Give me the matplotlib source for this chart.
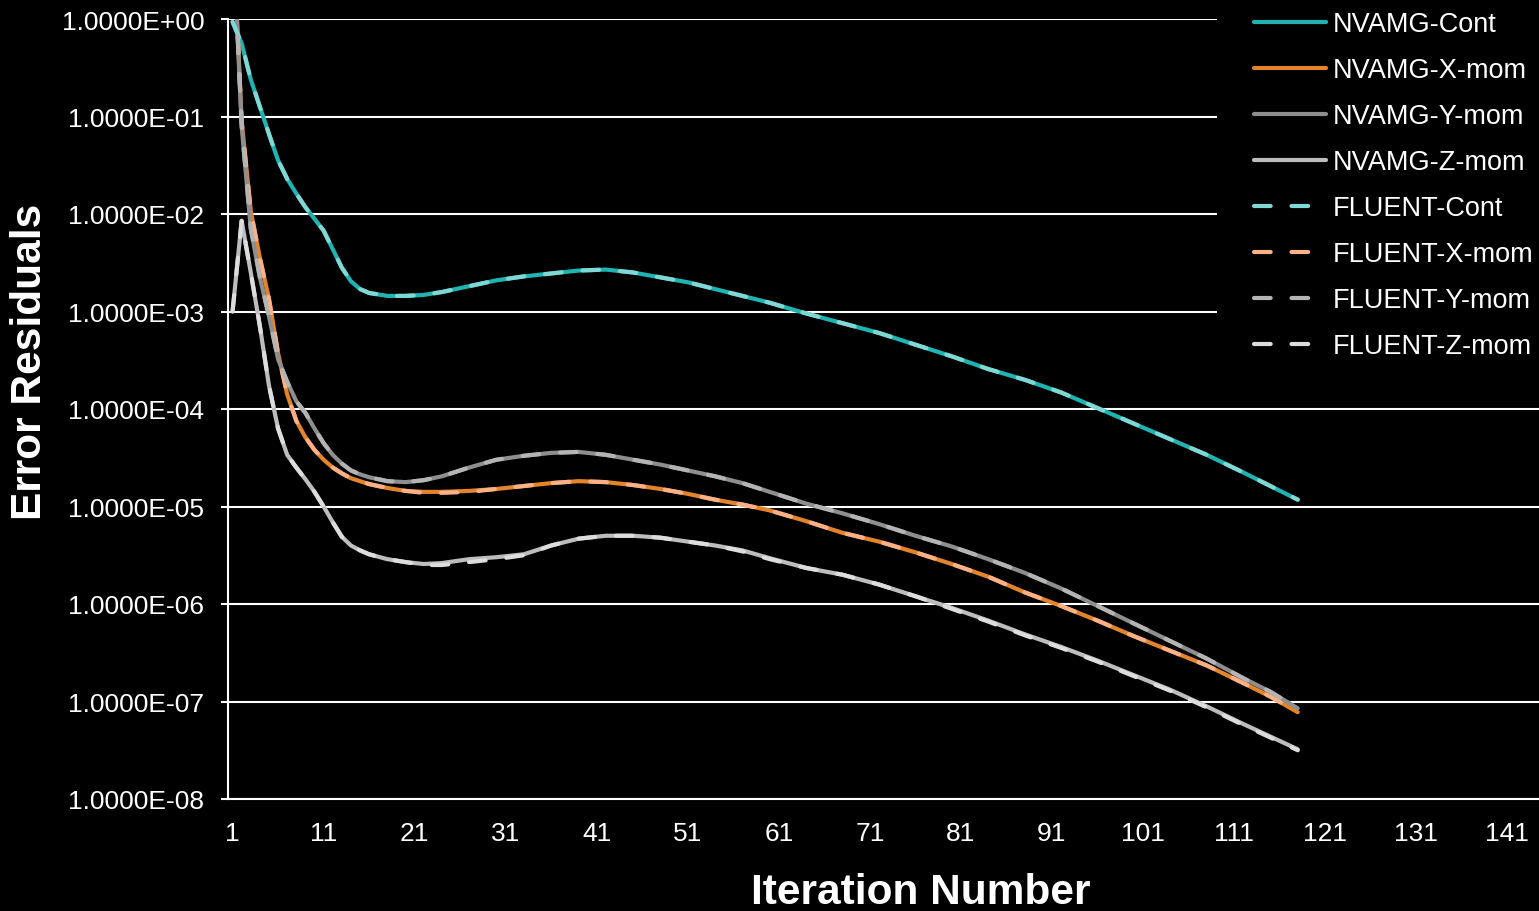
import numpy as np
import matplotlib
matplotlib.use("Agg")
import matplotlib.pyplot as plt
from matplotlib.patches import Rectangle

# iteration numbers where values were read
iters = [1, 2, 3, 4, 5, 6, 7, 8, 9, 10, 11, 12, 13, 14, 15, 16, 18, 20, 22, 24, 27, 30, 33,
         36, 39, 42, 45, 48, 51, 54, 57, 60, 64, 68, 72, 76, 80, 84, 88, 92, 96, 100,
         104, 108, 112, 115, 118]

# residuals, stored as log10 exponents
nvamg_cont = [-0.03, -0.25, -0.62, -0.90, -1.18, -1.45, -1.64, -1.79, -1.93, -2.05, -2.17,
              -2.36, -2.55, -2.69, -2.77, -2.81, -2.84, -2.84, -2.83, -2.80, -2.74, -2.68,
              -2.64, -2.61, -2.58, -2.57, -2.60, -2.65, -2.70, -2.77, -2.84, -2.91, -3.02,
              -3.12, -3.22, -3.34, -3.46, -3.59, -3.70, -3.83, -3.99, -4.15, -4.31, -4.47,
              -4.65, -4.79, -4.93]
nvamg_x = [1.0, -1.05, -1.97, -2.45, -2.87, -3.43, -3.85, -4.12, -4.29, -4.42, -4.52,
           -4.60, -4.66, -4.71, -4.74, -4.77, -4.81, -4.84, -4.85, -4.85, -4.84, -4.82,
           -4.79, -4.76, -4.74, -4.75, -4.78, -4.82, -4.87, -4.93, -4.98, -5.04, -5.15,
           -5.27, -5.36, -5.47, -5.59, -5.72, -5.88, -6.02, -6.17, -6.33, -6.48, -6.63,
           -6.81, -6.95, -7.11]
nvamg_y = [1.0, -1.10, -2.15, -2.65, -3.05, -3.49, -3.72, -3.92, -4.04, -4.20, -4.35,
           -4.47, -4.56, -4.63, -4.67, -4.70, -4.74, -4.75, -4.73, -4.69, -4.60, -4.52,
           -4.48, -4.45, -4.44, -4.47, -4.52, -4.57, -4.63, -4.69, -4.76, -4.85, -4.97,
           -5.07, -5.18, -5.30, -5.41, -5.54, -5.68, -5.84, -6.02, -6.20, -6.38, -6.56,
           -6.76, -6.90, -7.07]
nvamg_z = [-3.00, -2.07, -2.60, -3.15, -3.76, -4.20, -4.47, -4.60, -4.72, -4.85, -5.00,
           -5.16, -5.31, -5.40, -5.45, -5.49, -5.54, -5.57, -5.59, -5.58, -5.54, -5.52,
           -5.49, -5.40, -5.33, -5.30, -5.30, -5.32, -5.36, -5.40, -5.45, -5.53, -5.63,
           -5.70, -5.80, -5.92, -6.04, -6.17, -6.31, -6.44, -6.58, -6.73, -6.88, -7.05,
           -7.23, -7.36, -7.49]

fluent_cont = [-0.03, -0.25, -0.62, -0.90, -1.18, -1.45, -1.64, -1.79, -1.93, -2.05, -2.17,
               -2.36, -2.55, -2.69, -2.77, -2.81, -2.84, -2.84, -2.83, -2.80, -2.74, -2.68,
               -2.64, -2.61, -2.58, -2.57, -2.60, -2.65, -2.70, -2.77, -2.84, -2.91, -3.02,
               -3.12, -3.22, -3.34, -3.46, -3.59, -3.70, -3.83, -3.99, -4.15, -4.31, -4.47,
               -4.65, -4.79, -4.93]
fluent_x = [1.0, -1.05, -1.97, -2.45, -2.87, -3.43, -3.85, -4.12, -4.29, -4.42, -4.52,
            -4.60, -4.66, -4.71, -4.74, -4.77, -4.81, -4.84, -4.86, -4.86, -4.85, -4.82,
            -4.79, -4.76, -4.74, -4.75, -4.78, -4.82, -4.87, -4.93, -4.98, -5.04, -5.15,
            -5.27, -5.36, -5.47, -5.59, -5.72, -5.88, -6.02, -6.17, -6.33, -6.48, -6.63,
            -6.81, -6.95, -7.11]
fluent_y = [1.0, -1.10, -2.15, -2.65, -3.05, -3.49, -3.72, -3.92, -4.04, -4.20, -4.35,
            -4.47, -4.56, -4.63, -4.67, -4.70, -4.74, -4.75, -4.73, -4.69, -4.60, -4.52,
            -4.48, -4.45, -4.44, -4.47, -4.52, -4.57, -4.63, -4.69, -4.76, -4.85, -4.97,
            -5.07, -5.18, -5.30, -5.41, -5.54, -5.68, -5.84, -6.02, -6.20, -6.38, -6.56,
            -6.76, -6.90, -7.07]
fluent_z = [-3.00, -2.07, -2.60, -3.15, -3.76, -4.20, -4.47, -4.60, -4.72, -4.85, -5.00,
            -5.16, -5.31, -5.40, -5.45, -5.49, -5.54, -5.57, -5.60, -5.60, -5.57, -5.54,
            -5.50, -5.40, -5.33, -5.30, -5.30, -5.32, -5.36, -5.40, -5.46, -5.54, -5.63,
            -5.70, -5.80, -5.92, -6.05, -6.18, -6.32, -6.45, -6.59, -6.74, -6.89, -7.06,
            -7.24, -7.37, -7.50]

labels = ["NVAMG-Cont", "NVAMG-X-mom", "NVAMG-Y-mom", "NVAMG-Z-mom",
          "FLUENT-Cont", "FLUENT-X-mom", "FLUENT-Y-mom", "FLUENT-Z-mom"]
xtick_vals = [1, 11, 21, 31, 41, 51, 61, 71, 81, 91, 101, 111, 121, 131, 141]
ytick_labels = ["1.0000E-08", "1.0000E-07", "1.0000E-06", "1.0000E-05",
                "1.0000E-04", "1.0000E-03", "1.0000E-02", "1.0000E-01", "1.0000E+00"]

colors = ["#1fb3b1", "#e3832a", "#8e8e8e", "#bdbdbd",
          "#80d8d5", "#fbb185", "#b4b4b4", "#dddddd"]

plt.rcParams['font.family'] = ['Liberation Sans', 'DejaVu Sans']

W, H = 1539, 912
fig = plt.figure(figsize=(W / 100, H / 100), dpi=100, facecolor="black")
ax = fig.add_axes([228 / W, 1 - 800 / H, 1 - 228 / W, 780 / H])
ax.set_facecolor("black")

series = [nvamg_cont, nvamg_x, nvamg_y, nvamg_z, fluent_cont, fluent_x, fluent_y, fluent_z]
handles = []
for i, s in enumerate(series):
    vals = 10.0 ** np.array(s)
    if i < 4:
        h, = ax.plot(iters, vals, color=colors[i], lw=3.0, solid_capstyle="round",
                     solid_joinstyle="round", label=labels[i], zorder=3)
    else:
        h, = ax.plot(iters, vals, color=colors[i], lw=3.0, dashes=(4, 5.0),
                     dash_capstyle="round", dash_joinstyle="round", label=labels[i], zorder=4)
    handles.append(h)

ax.set_yscale("log")
ax.set_ylim(1e-8, 1e0)
ax.set_xlim(0.5, 144.5)
ax.set_yticks([10.0 ** k for k in range(-8, 1)])
ax.set_yticklabels(ytick_labels)
ax.minorticks_off()
ax.set_xticks(xtick_vals)
ax.set_xticklabels([str(v) for v in xtick_vals])

ax.grid(axis="y", color="white", lw=1.5, zorder=1)
for side in ["top", "right"]:
    ax.spines[side].set_visible(False)
for side in ["left", "bottom"]:
    ax.spines[side].set_color("white")
    ax.spines[side].set_linewidth(1.5)
ax.tick_params(axis="y", colors="white", labelsize=19, length=5, width=1.5, pad=12)
ax.tick_params(axis="x", colors="white", labelsize=19, length=0, pad=16)

fig.text(30 / W, 1 - 362 / H, "Error Residuals", rotation=90, color="white",
         fontsize=30.5, fontweight="bold", ha="center", va="center")
fig.text(921 / W, 1 - 893 / H, "Iteration Number", color="white",
         fontsize=30.5, fontweight="bold", ha="center", va="center")

# black legend panel in the top right corner
fig.patches.append(Rectangle((1217 / W, 1 - 368 / H), 322 / W, 368 / H,
                             transform=fig.transFigure, facecolor="black",
                             edgecolor="none", zorder=5))

leg = fig.legend(handles=handles, loc="upper left", bbox_to_anchor=(1254 / W, 1 - 12 / H),
                 frameon=False, fontsize=19.5, labelcolor="white", handlelength=2.67,
                 handletextpad=0.22, labelspacing=0.74, borderpad=0.0, borderaxespad=0.0)
leg.set_zorder(6)

fig.savefig("out.png", dpi=100, facecolor="black")
